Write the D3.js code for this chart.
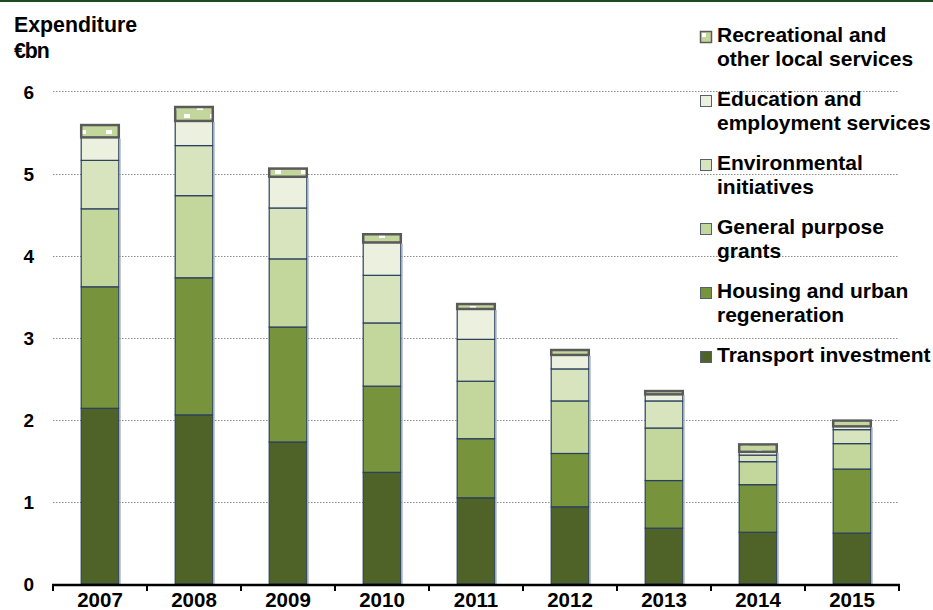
<!DOCTYPE html>
<html>
<head>
<meta charset="utf-8">
<script src="https://cdn.jsdelivr.net/npm/d3@7"></script>
<style>
  html, body { margin: 0; padding: 0; background: #fff; }
  svg text { font-family: "Liberation Sans", Arial, sans-serif; font-weight: bold; fill: #000; }
</style>
</head>
<body>
<svg id="chart" width="933" height="610"></svg>
<script>
// Local-authority capital expenditure by purpose, €bn
const years = ["2007", "2008", "2009", "2010", "2011", "2012", "2013", "2014", "2015"];
const transport    = [2.14, 2.06, 1.73, 1.36, 1.05, 0.94, 0.68, 0.63, 0.62];
const housing      = [1.48, 1.67, 1.40, 1.05, 0.72, 0.65, 0.58, 0.58, 0.78];
const generalGrant = [0.95, 1.00, 0.83, 0.77, 0.70, 0.64, 0.64, 0.28, 0.31];
const environment  = [0.59, 0.61, 0.62, 0.58, 0.51, 0.39, 0.33, 0.08, 0.17];
const education    = [0.28, 0.30, 0.38, 0.40, 0.37, 0.17, 0.08, 0.04, 0.04];
const recreation   = [0.15, 0.17, 0.10, 0.10, 0.06, 0.06, 0.04, 0.09, 0.07];
const yTicks = [0, 1, 2, 3, 4, 5, 6];

const seriesKeys = ["transport", "housing", "generalGrant", "environment", "education", "recreation"];
const seriesNames = {
  transport: ["Transport investment"],
  housing: ["Housing and urban", "regeneration"],
  generalGrant: ["General purpose", "grants"],
  environment: ["Environmental", "initiatives"],
  education: ["Education and", "employment services"],
  recreation: ["Recreational and", "other local services"]
};
const colors = {
  transport: "#4f6228",
  housing: "#77933c",
  generalGrant: "#c3d69b",
  environment: "#d7e4bd",
  education: "#ebf1de",
  recreation: "url(#recPattern)"
};

const rows = years.map((y, i) => ({
  year: y,
  transport: transport[i],
  housing: housing[i],
  generalGrant: generalGrant[i],
  environment: environment[i],
  education: education[i],
  recreation: recreation[i]
}));

const svg = d3.select("#chart");

// patterned fill for the recreational series
const defs = svg.append("defs");
const pat = defs.append("pattern")
  .attr("id", "recPattern").attr("patternUnits", "userSpaceOnUse")
  .attr("width", 26).attr("height", 16);
pat.append("rect").attr("width", 26).attr("height", 16).attr("fill", "#c3d69b");
pat.append("rect").attr("x", 2).attr("y", 2).attr("width", 6).attr("height", 4).attr("fill", "#fff");
pat.append("rect").attr("x", 15).attr("y", 10).attr("width", 6).attr("height", 4).attr("fill", "#fff");

const legPat = defs.append("pattern")
  .attr("id", "recLegend").attr("patternUnits", "userSpaceOnUse")
  .attr("x", 700).attr("y", 31).attr("width", 12).attr("height", 12);
legPat.append("rect").attr("width", 12).attr("height", 12).attr("fill", "#c3d69b");
legPat.append("rect").attr("x", 2).attr("y", 2).attr("width", 4).attr("height", 4).attr("fill", "#fff");

// header rule
svg.append("rect").attr("x", 0).attr("y", 0).attr("width", 933).attr("height", 2).attr("fill", "#1d4c23");

const x = d3.scaleBand().domain(years).range([53, 899]).paddingInner(0.6).paddingOuter(0.3);
const y = d3.scaleLinear().domain([0, 6]).range([584, 91.4]);

// gridlines
svg.append("g").selectAll("line").data(yTicks.filter(d => d > 0)).join("line")
  .attr("x1", 53).attr("x2", 899)
  .attr("y1", d => Math.round(y(d)) + 0.5).attr("y2", d => Math.round(y(d)) + 0.5)
  .attr("stroke", "#8c8c8c").attr("stroke-width", 1).attr("stroke-dasharray", "1.5,1.5");

// stacked bars
const stack = d3.stack().keys(seriesKeys)(rows);
const layers = svg.append("g").selectAll("g").data(stack).join("g")
  .attr("fill", d => colors[d.key]);
layers.selectAll("rect").data(d => d.map(v => Object.assign(v, { key: d.key }))).join("rect")
  .attr("x", d => x(d.data.year))
  .attr("width", x.bandwidth())
  .attr("y", d => y(d[1]))
  .attr("height", d => y(d[0]) - y(d[1]))
  .attr("stroke", d => d.key === "recreation" ? "#5a5a5a" : "#2b4060")
  .attr("stroke-width", d => d.key === "recreation" ? 2.5 : 1.2);

// soft right-hand edge on each bar
svg.append("g").selectAll("line").data(rows).join("line")
  .attr("x1", d => x(d.year) + x.bandwidth() + 1.2).attr("x2", d => x(d.year) + x.bandwidth() + 1.2)
  .attr("y1", d => y(d.transport + d.housing + d.generalGrant + d.environment + d.education) + 1)
  .attr("y2", y(0))
  .attr("stroke", "#9aaabb").attr("stroke-width", 1.2);

// y tick labels
const yAxis = svg.append("g").attr("transform", "translate(53,0)")
  .call(d3.axisLeft(y).tickValues(yTicks).tickFormat(d3.format("d")).tickSize(0).tickPadding(19));
yAxis.select(".domain").remove();
yAxis.selectAll("text").attr("font-size", 19).attr("font-family", "Liberation Sans, Arial, sans-serif")
  .attr("font-weight", "bold").attr("fill", "#000").attr("dy", "0.36em");

// x axis: line, boundary ticks, labels
const xAxis = svg.append("g").attr("transform", "translate(0,584)")
  .call(d3.axisBottom(x).tickSize(0).tickPadding(8));
xAxis.select(".domain").remove();
xAxis.selectAll("text").attr("font-size", 20.5).attr("font-family", "Liberation Sans, Arial, sans-serif")
  .attr("font-weight", "bold").attr("fill", "#000");
svg.append("line").attr("x1", 52).attr("x2", 900).attr("y1", 585).attr("y2", 585)
  .attr("stroke", "#000").attr("stroke-width", 2.5);
const bounds = years.map(d => x(d) - x.step() * x.paddingOuter()).concat([x.range()[1]]);
svg.append("g").selectAll("line").data(bounds).join("line")
  .attr("x1", d => d).attr("x2", d => d).attr("y1", 585).attr("y2", 591)
  .attr("stroke", "#000").attr("stroke-width", 2);

// axis title
svg.append("text").attr("x", 14).attr("y", 32).attr("font-size", 21.3).text("Expenditure");
svg.append("text").attr("x", 14).attr("y", 58).attr("font-size", 21.3).attr("letter-spacing", "-1").text("€bn");

// legend, top entry is the top of the stack
const legendKeys = seriesKeys.slice().reverse();
const leg = svg.append("g").selectAll("g").data(legendKeys).join("g")
  .attr("transform", (d, i) => `translate(0,${i * 64})`);
leg.append("rect").attr("x", 700.5).attr("y", 31.5).attr("width", 11).attr("height", 11)
  .attr("fill", d => d === "recreation" ? "url(#recLegend)" : colors[d])
  .attr("stroke", d => d === "recreation" ? "#5a5a5a" : "#55606e")
  .attr("stroke-width", d => d === "recreation" ? 1.5 : 1);
leg.each(function (d) {
  const t = d3.select(this).append("text").attr("x", 717).attr("y", 42).attr("font-size", 21);
  seriesNames[d].forEach((line, j) => {
    t.append("tspan").attr("x", 717).attr("dy", j === 0 ? 0 : 24).text(line);
  });
});
</script>
</body>
</html>
